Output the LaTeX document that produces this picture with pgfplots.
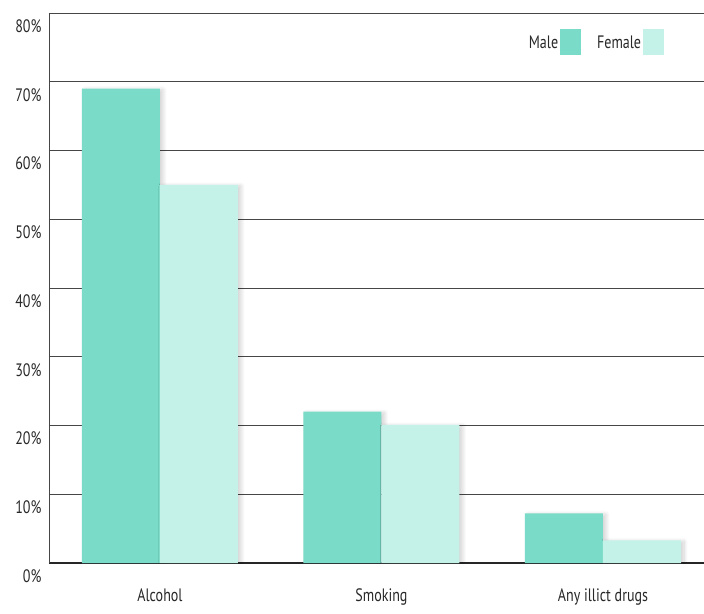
\documentclass[border=0pt]{standalone}
\usepackage{fontspec}
\setmainfont[FakeStretch=0.78]{PT Sans}
\usepackage{pgfplots}
\pgfplotsset{compat=1.18}
\usetikzlibrary{shadows.blur}

\definecolor{maleC}{RGB}{122,220,200}
\definecolor{femaleC}{RGB}{196,242,233}
\definecolor{gridC}{RGB}{70,70,70}
\definecolor{txtC}{RGB}{40,40,40}

\begin{document}
\begin{tikzpicture}
\begin{axis}[
  scale only axis,
  width=655pt, height=550pt,
  at={(0,0)}, anchor=south west,
  ymin=0, ymax=80, ytick={0,10,...,80},
  xmin=-0.501, xmax=2.456,
  xtick={0,1,2}, xticklabels={Alcohol,Smoking,Any illict drugs},
  ybar=0pt, bar width=78pt,
  axis x line*=bottom, axis y line*=left,
  x axis line style={line width=1.6pt, color=black!85, -},
  y axis line style={line width=0.8pt, color=gridC, -},
  ymajorgrids, grid style={line width=0.8pt, color=gridC},
  major tick length=0pt,
  /pgf/number format/assume math mode=true,
  yticklabel={\pgfmathprintnumber{\tick}\%},
  tick label style={font=\fontsize{18}{20}\selectfont, text=txtC},
  yticklabel style={yshift=-13pt, xshift=-4pt},
  xticklabel style={yshift=-22pt},
  legend columns=2,
  legend plot pos=right,
  legend style={at={(0.944,0.975)}, anchor=north east, draw=none, fill=white,
    font=\fontsize{18}{20}\selectfont, text=txtC,
    /tikz/every even column/.append style={column sep=14pt}},
  legend image code/.code={\fill[#1] (0pt,-12pt) rectangle (21pt,14pt);},
]
% bars with a soft drop shadow, placed side by side in each group
\addplot[fill=maleC, draw=none, forget plot, bar shift=-39pt,
  blur shadow={shadow xshift=3pt, shadow yshift=-1pt, shadow blur radius=4pt,
    shadow opacity=18, shadow blur steps=8}]
  coordinates {(0,69) (1,22) (2,7.2)};
\addplot[fill=femaleC, draw=none, forget plot, bar shift=39pt,
  blur shadow={shadow xshift=3pt, shadow yshift=-1pt, shadow blur radius=4pt,
    shadow opacity=18, shadow blur steps=8}]
  coordinates {(0,55) (1,20.1) (2,3.3)};
\addlegendimage{fill=maleC, draw=none}
\addlegendentry{Male}
\addlegendimage{fill=femaleC, draw=none}
\addlegendentry{Female}
\end{axis}
\pgfresetboundingbox
\path[use as bounding box] (-49pt,-50pt) rectangle (655pt,563pt);
\end{tikzpicture}
\end{document}
